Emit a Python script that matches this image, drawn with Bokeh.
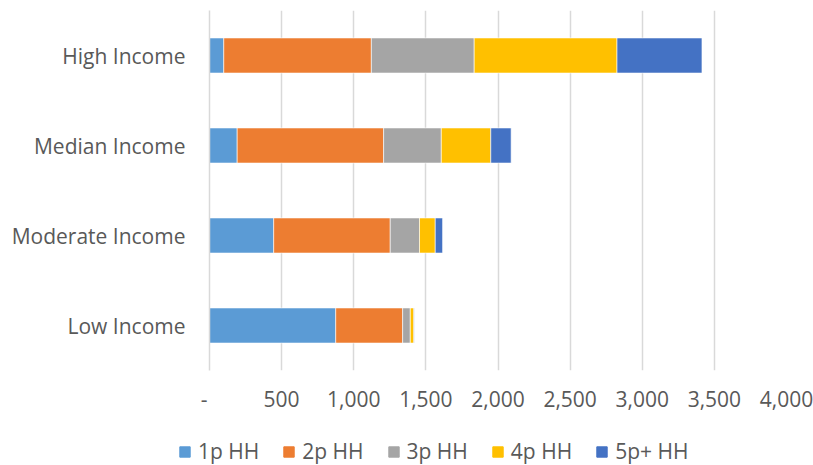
from bokeh.plotting import figure
from bokeh.models import ColumnDataSource, FactorRange, Range1d, FixedTicker, NumeralTickFormatter, Legend, LegendItem
from bokeh.embed import file_html
from bokeh.resources import INLINE

categories = ["Low Income", "Moderate Income", "Median Income", "High Income"]
series = ["1p HH", "2p HH", "3p HH", "4p HH", "5p+ HH"]
hh1 = [875, 445, 192, 99]
hh2 = [464, 808, 1015, 1023]
hh3 = [53, 203, 400, 713]
hh4 = [25, 109, 343, 990]
hh5 = [2, 51, 141, 589]
colors = ["#5B9BD5", "#ED7D31", "#A5A5A5", "#FFC000", "#4472C4"]
x_ticks = [0, 500, 1000, 1500, 2000, 2500, 3000, 3500, 4000]

FONT = "Open Sans"
TXT = "#595959"

src = ColumnDataSource(dict(cat=categories, s1=hh1, s2=hh2, s3=hh3, s4=hh4, s5=hh5))
keys = ["s1", "s2", "s3", "s4", "s5"]

p = figure(width=813, height=420, y_range=FactorRange(factors=categories),
           x_range=Range1d(0, 4000), output_backend="svg", toolbar_location=None,
           min_border_left=209, min_border_right=27, min_border_top=10, min_border_bottom=50)
p.outline_line_color = None

rs = p.hbar_stack(keys, y="cat", height=0.39, color=colors, source=src,
                  line_color="white", line_width=0.6)

p.xgrid.ticker = FixedTicker(ticks=x_ticks)
p.xgrid.grid_line_color = "#D9D9D9"
p.xgrid.grid_line_width = 1.5
p.ygrid.grid_line_color = None

p.xaxis.ticker = FixedTicker(ticks=x_ticks)
p.xaxis.formatter = NumeralTickFormatter(format="0,0")
p.xaxis.major_label_overrides = {0: "-\u00a0\u00a0"}
p.xaxis.axis_line_color = None
p.xaxis.major_tick_line_color = None
p.xaxis.minor_tick_line_color = None
p.xaxis.major_label_standoff = 8
p.xaxis.major_label_text_font = FONT
p.xaxis.major_label_text_font_size = "21px"
p.xaxis.major_label_text_color = TXT

p.yaxis.axis_line_color = "#D9D9D9"
p.yaxis.axis_line_width = 1.5
p.yaxis.major_tick_line_color = None
p.yaxis.minor_tick_line_color = None
p.yaxis.major_label_standoff = 18
p.yaxis.major_label_text_font = FONT
p.yaxis.major_label_text_font_size = "21px"
p.yaxis.major_label_text_color = TXT

# legend strip (separate root so its frame spans the full width)
lg = figure(width=813, height=45, y_range=FactorRange(factors=categories), x_range=Range1d(0, 4000),
            output_backend="svg", toolbar_location=None,
            min_border_left=0, min_border_right=0, min_border_top=0, min_border_bottom=0)
lg.axis.visible = False
lg.grid.grid_line_color = None
lg.outline_line_color = None
lrs = lg.hbar_stack(keys, y="cat", height=0.39, color=colors, source=src)
for r in lrs:
    r.visible = False

legend = Legend(items=[LegendItem(label=s, renderers=[r]) for s, r in zip(series, lrs)],
                orientation="horizontal", location=(178, 0))
legend.glyph_width = 13
legend.glyph_height = 13
legend.label_standoff = 7
legend.spacing = 23
legend.label_width = 58
legend.padding = 0
legend.margin = 0
legend.border_line_color = None
legend.background_fill_alpha = 0
legend.inactive_fill_alpha = 0
legend.label_text_font = FONT
legend.label_text_font_size = "21px"
legend.label_text_color = TXT
lg.add_layout(legend, "center")

open("out.html", "w").write(file_html([p, lg], INLINE))
